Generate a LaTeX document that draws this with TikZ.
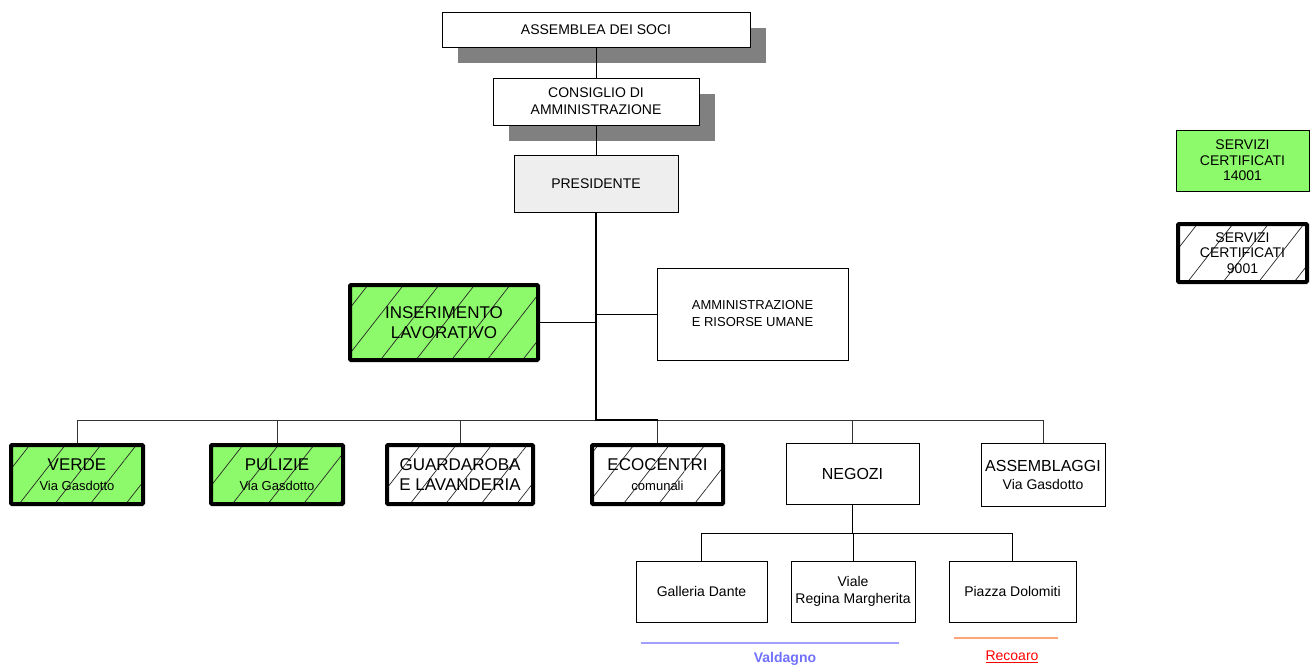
\documentclass[tikz,border=0pt]{standalone}
\usepackage{fontspec}
\setmainfont{Liberation Sans}
\usetikzlibrary{patterns.meta}
\usetikzlibrary{shadows}

\definecolor{verdino}{RGB}{140,250,106}
\definecolor{grigino}{RGB}{238,238,238}
\definecolor{lineablu}{RGB}{160,160,255}
\definecolor{testoblu}{RGB}{112,112,255}
\definecolor{lineaarancio}{RGB}{255,165,120}

\tikzset{
  box/.style={draw, line width=0.8pt, inner sep=0pt, align=center,
    font=\fontsize{14}{17}\selectfont},
  boxbig/.style={box, line width=4pt, rounded corners=1pt,
    font=\fontsize{17}{20}\selectfont},
  hatch/.style={pattern={Lines[angle=52,distance=28pt,line width=0.7pt]},
    pattern color=black!85},
  greenhatch/.style={hatch, preaction={fill=verdino}},
  ombra/.style={drop shadow={shadow xshift=16pt, shadow yshift=-16pt,
    fill=black!50, opacity=1}}
}

\begin{document}
\begin{tikzpicture}[x=1pt, y=-1pt]
    \useasboundingbox (0,0) rectangle (1314,665);

    % top of the chart
    \node[box, ombra, fill=white, minimum width=308pt, minimum height=35pt] (soci) at (596,29.5) {ASSEMBLEA DEI SOCI};
    \node[box, ombra, fill=white, minimum width=206pt, minimum height=47pt] (cda) at (596,101.5) {CONSIGLIO DI\\AMMINISTRAZIONE};
    \node[box, fill=grigino, minimum width=164pt, minimum height=57pt] (pres) at (596,183.5) {PRESIDENTE};
    \coordinate (hub) at (596,420);

    \node[boxbig, greenhatch, minimum width=188pt, minimum height=75pt] (inser) at (444,322.5) {INSERIMENTO\\LAVORATIVO};
    \node[box, font=\fontsize{13}{17}\selectfont, minimum width=191pt, minimum height=92pt] (amm) at (752.5,314) {AMMINISTRAZIONE\\E RISORSE UMANE};

    % services row
    \node[boxbig, greenhatch, minimum width=132pt, minimum height=59pt] (verde) at (77,474.5) {VERDE\\{\fontsize{13}{15}\selectfont Via Gasdotto}};
    \node[boxbig, greenhatch, minimum width=132pt, minimum height=59pt] (pulizie) at (277,474.5) {PULIZIE\\{\fontsize{13}{15}\selectfont Via Gasdotto}};
    \node[boxbig, hatch, minimum width=146pt, minimum height=59pt] (guard) at (460,474.5) {GUARDAROBA\\E LAVANDERIA};
    \node[boxbig, hatch, minimum width=131pt, minimum height=59pt] (eco) at (657.5,474.5) {ECOCENTRI\\{\fontsize{13}{15}\selectfont comunali}};
    \node[box, font=\fontsize{16}{18}\selectfont, minimum width=133pt, minimum height=61pt] (negozi) at (852.5,473.5) {NEGOZI};
    \node[box, font=\fontsize{16}{18}\selectfont, minimum width=124pt, minimum height=63pt] (assem) at (1043,474.5) {ASSEMBLAGGI\\{\fontsize{14}{16}\selectfont Via Gasdotto}};

    % shops
    \coordinate (nhub) at (852.5,533);
    \node[box, minimum width=131pt, minimum height=61pt] (galleria) at (701.5,591.5) {Galleria Dante};
    \node[box, minimum width=124pt, minimum height=61pt] (viale) at (853,591.5) {Viale\\Regina Margherita};
    \node[box, minimum width=127pt, minimum height=61pt] (piazza) at (1012.5,591.5) {Piazza Dolomiti};

    % legend
    \node[box, fill=verdino, font=\fontsize{14}{15.5}\selectfont, minimum width=133pt, minimum height=61pt] (cert14) at (1242.5,160.5) {SERVIZI\\CERTIFICATI\\14001};
    \node[boxbig, hatch, font=\fontsize{14}{15.5}\selectfont, minimum width=129pt, minimum height=58pt] (cert9) at (1242.5,253) {SERVIZI\\CERTIFICATI\\9001};

    % places
    \node[font=\bfseries\fontsize{14}{16}\selectfont, text=testoblu] (valdagno) at (785,659) {Valdagno};
    \node[font=\fontsize{14}{16}\selectfont, text=red] (recoaro) at (1012,657) {\underline{Recoaro}};
    \draw[lineablu, line width=2pt] (641,643) -- (899,643);
    \draw[lineaarancio, line width=2pt] (954,638) -- (1058,638);

    % connectors
    \draw[line width=1pt] (soci) -- (cda);
    \draw[line width=1pt] (cda) -- (pres);
    \draw[line width=0.9pt, black!80] (verde.north |- hub) -- (assem.north |- hub);
    \foreach \n in {verde, pulizie, guard, eco, negozi, assem}
      \draw[line width=0.9pt, black!80] (\n.north) -- (\n.north |- hub);
    \draw[line width=1.8pt] (pres) -- (hub) -- (eco.north |- hub);
    \draw[line width=1pt] (inser.east) -- (inser.east -| hub);
    \draw[line width=1pt] (amm.west) -- (amm.west -| hub);
    \draw[line width=1.2pt] (negozi) -- (nhub);
    \draw[line width=1pt] (galleria.north |- nhub) -- (piazza.north |- nhub);
    \foreach \n in {galleria, viale, piazza}
      \draw[line width=1pt] (\n.north) -- (\n.north |- nhub);
  \end{tikzpicture}
\end{document}
